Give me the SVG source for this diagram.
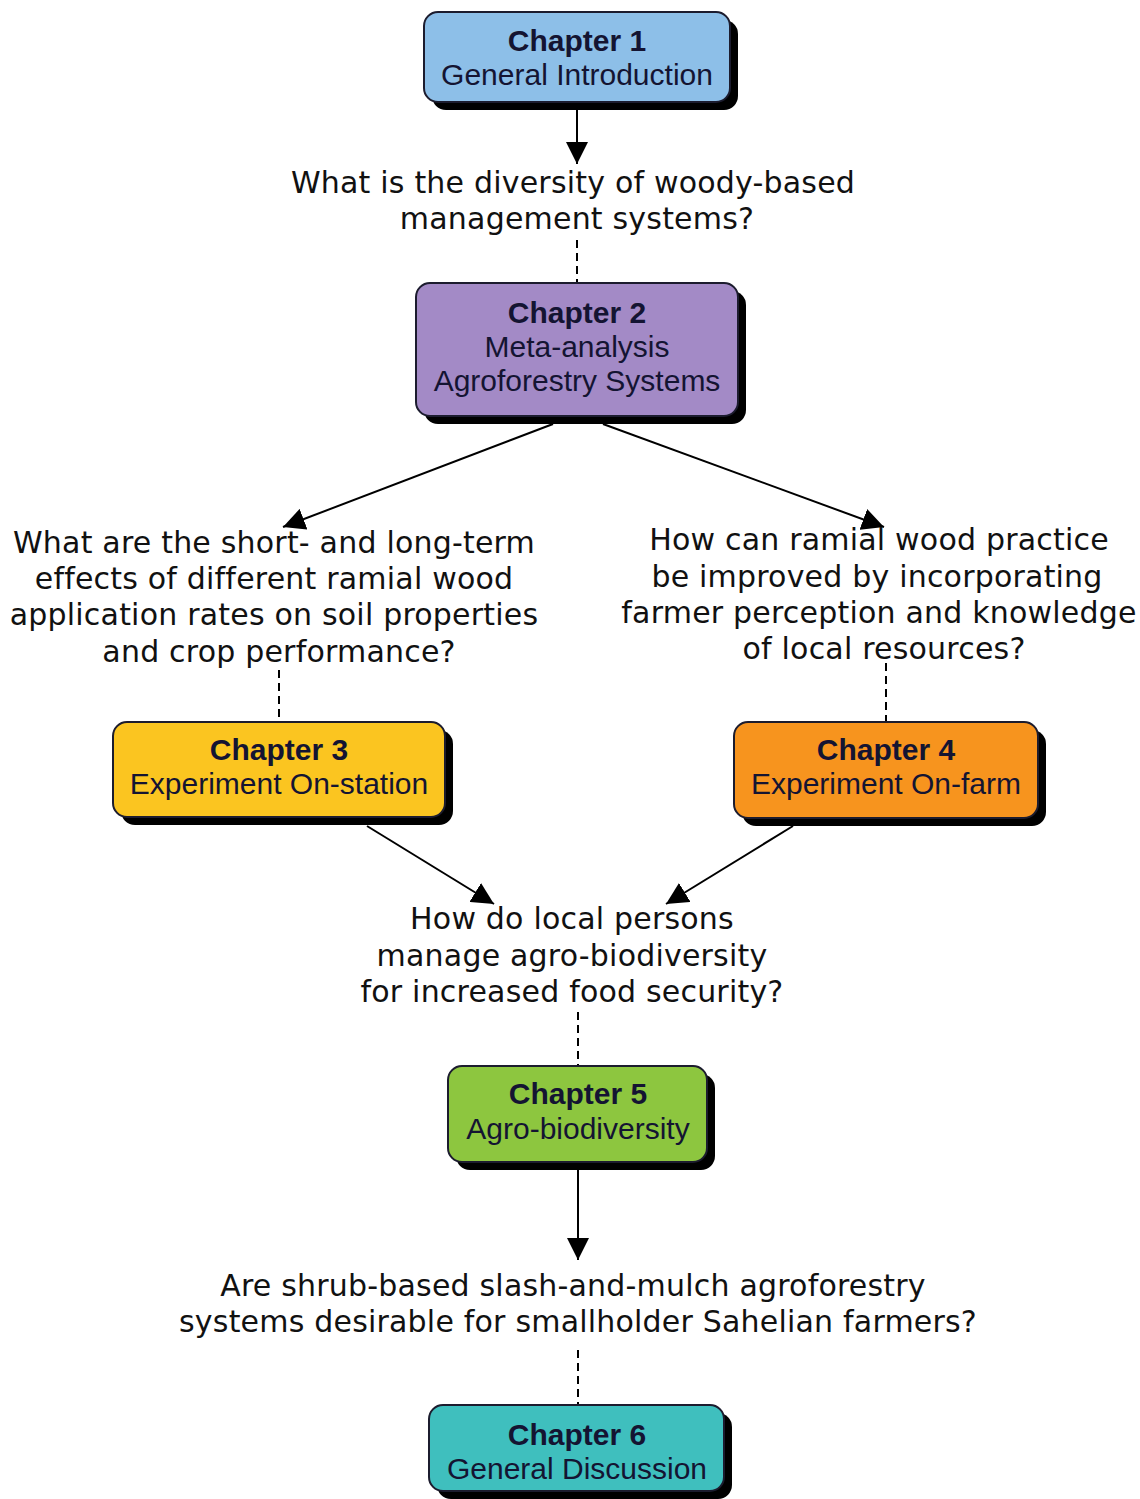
<svg xmlns="http://www.w3.org/2000/svg" width="1140" height="1499" viewBox="0 0 1140 1499">
<defs>
<marker id="ah" viewBox="0 0 20 20" refX="20" refY="10" markerWidth="22" markerHeight="22" markerUnits="userSpaceOnUse" orient="auto"><path d="M0,0 L20,10 L0,20 z" fill="#000"/></marker>
<style>
.sh{fill:#000}
.bx{stroke:#1c1c2e;stroke-width:2}
.t{font-family:"Liberation Sans",Arial,sans-serif;font-size:30px;fill:#141432;text-anchor:middle}
.b{font-weight:bold}
.q{font-family:"DejaVu Sans",Verdana,sans-serif;font-size:30px;letter-spacing:0.2px;fill:#111;text-anchor:middle}
.ln{stroke:#000;stroke-width:2;fill:none}
.ds{stroke:#000;stroke-width:2;stroke-dasharray:8 5;fill:none}
</style>
</defs>
<rect width="1140" height="1499" fill="#fff"/>
<g id="connectors">
<line class="ln" x1="577" y1="102" x2="577" y2="164" marker-end="url(#ah)"/>
<line class="ds" x1="577" y1="240" x2="577" y2="283"/>
<line class="ln" x1="553" y1="424" x2="283" y2="527" marker-end="url(#ah)"/>
<line class="ln" x1="603" y1="424" x2="884" y2="527" marker-end="url(#ah)"/>
<line class="ds" x1="279" y1="670" x2="279" y2="722"/>
<line class="ds" x1="886" y1="663" x2="886" y2="722"/>
<line class="ln" x1="367" y1="826" x2="494" y2="904" marker-end="url(#ah)"/>
<line class="ln" x1="793" y1="826" x2="666" y2="904" marker-end="url(#ah)"/>
<line class="ds" x1="578" y1="1012" x2="578" y2="1066"/>
<line class="ln" x1="578" y1="1170" x2="578" y2="1260" marker-end="url(#ah)"/>
<line class="ds" x1="578" y1="1350" x2="578" y2="1405"/>
</g>
<g id="ch1">
<rect class="sh" x="432" y="20" width="306" height="90" rx="14"/>
<rect class="bx" x="424" y="12" width="306" height="90" rx="14" fill="#8dbfe8"/>
<text class="t b" x="577" y="51">Chapter 1</text>
<text class="t" x="577" y="85">General Introduction</text>
</g>
<g id="q1">
<text class="q" x="573" y="193">What is the diversity of woody-based</text>
<text class="q" x="577" y="229">management systems?</text>
</g>
<g id="ch2">
<rect class="sh" x="424" y="291" width="322" height="133" rx="14"/>
<rect class="bx" x="416" y="283" width="322" height="133" rx="14" fill="#a38ac6"/>
<text class="t b" x="577" y="323">Chapter 2</text>
<text class="t" x="577" y="357">Meta-analysis</text>
<text class="t" x="577" y="391">Agroforestry Systems</text>
</g>
<g id="q2">
<text class="q" x="274" y="553">What are the short- and long-term</text>
<text class="q" x="274" y="589">effects of different ramial wood</text>
<text class="q" x="274" y="625">application rates on soil properties</text>
<text class="q" x="279" y="662">and crop performance?</text>
</g>
<g id="q3">
<text class="q" x="879" y="550">How can ramial wood practice</text>
<text class="q" x="877" y="587">be improved by incorporating</text>
<text class="q" x="879" y="623">farmer perception and knowledge</text>
<text class="q" x="884" y="659">of local resources?</text>
</g>
<g id="ch3">
<rect class="sh" x="121" y="730" width="332" height="95" rx="14"/>
<rect class="bx" x="113" y="722" width="332" height="95" rx="14" fill="#fbc520"/>
<text class="t b" x="279" y="760">Chapter 3</text>
<text class="t" x="279" y="794">Experiment On-station</text>
</g>
<g id="ch4">
<rect class="sh" x="742" y="730" width="304" height="96" rx="14"/>
<rect class="bx" x="734" y="722" width="304" height="96" rx="14" fill="#f7941e"/>
<text class="t b" x="886" y="760">Chapter 4</text>
<text class="t" x="886" y="794">Experiment On-farm</text>
</g>
<g id="q4">
<text class="q" x="572" y="929">How do local persons</text>
<text class="q" x="572" y="966">manage agro-biodiversity</text>
<text class="q" x="572" y="1002">for increased food security?</text>
</g>
<g id="ch5">
<rect class="sh" x="456" y="1074" width="259" height="96" rx="14"/>
<rect class="bx" x="448" y="1066" width="259" height="96" rx="14" fill="#8dc63f"/>
<text class="t b" x="578" y="1104">Chapter 5</text>
<text class="t" x="578" y="1139">Agro-biodiversity</text>
</g>
<g id="q5">
<text class="q" x="573" y="1296">Are shrub-based slash-and-mulch agroforestry</text>
<text class="q" x="578" y="1332">systems desirable for smallholder Sahelian farmers?</text>
</g>
<g id="ch6">
<rect class="sh" x="437" y="1413" width="295" height="86" rx="14"/>
<rect class="bx" x="429" y="1405" width="295" height="86" rx="14" fill="#3fbfbe"/>
<text class="t b" x="577" y="1445">Chapter 6</text>
<text class="t" x="577" y="1479">General Discussion</text>
</g>
</svg>
